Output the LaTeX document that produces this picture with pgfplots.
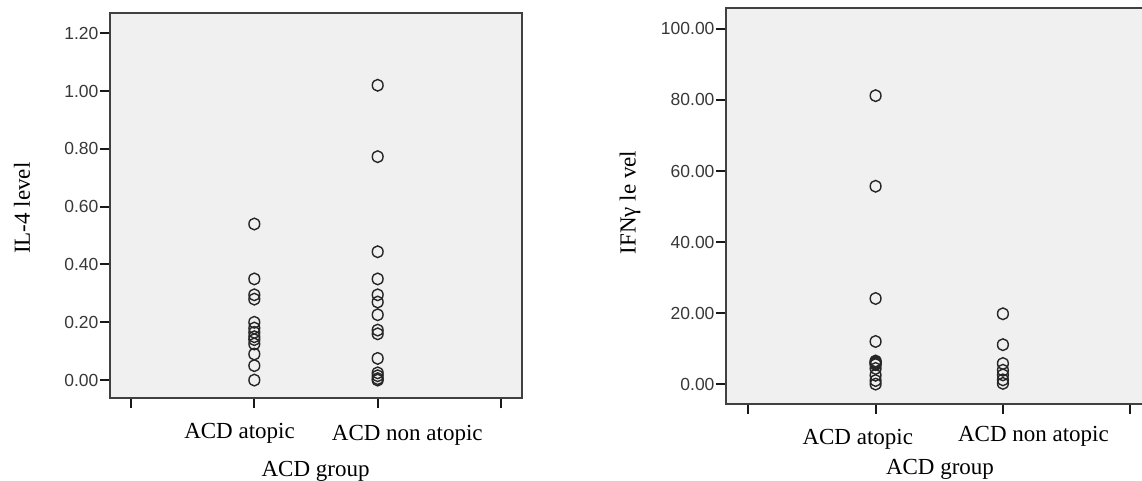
\documentclass[border=0pt]{standalone}
\usepackage{fontspec}
\setmainfont{Liberation Serif}
\newfontfamily\tickfont{Liberation Sans}
\usepackage{pgfplots}
\pgfplotsset{compat=1.18}
\pgfplotsset{
  spss/.style={
    scale only axis,
    axis background/.style={fill=black!6},
    axis line style={black!75, line width=2pt},
    clip=false,
    xtick={0,1,2,3}, xticklabels={},
    xtick pos=bottom, ytick pos=left,
    tick align=outside,
    tick style={black!90, line width=2pt},
    major tick length=10pt,
    yticklabel style={font=\tickfont\fontsize{17.5}{17.5}\selectfont, text=black!78, xshift=2pt},
    /pgf/number format/fixed,
    /pgf/number format/fixed zerofill,
    /pgf/number format/precision=2,
    /pgf/number format/assume math mode=true,
    label style={font=\fontsize{23}{23}\selectfont},
  },
  pts/.style={only marks, mark=o, mark size=5.4pt, mark options={black!85, line width=1.4pt, yscale=1.08}},
}
\begin{document}
\begin{tikzpicture}
\useasboundingbox (0pt,0pt) rectangle (1142pt,481pt);
% Left panel: IL-4
\begin{axis}[spss,
  at={(110pt,82.7pt)}, anchor=south west,
  width=412pt, height=385pt,
  xmin=-0.17, xmax=3.17, ymin=-0.063, ymax=1.269,
  ytick={0,0.2,0.4,0.6,0.8,1.0,1.2},
  ylabel={IL-4 level},
  ylabel style={at={(axis description cs:-0.2136,0.494)}, anchor=center},
  xlabel={ACD group},
  xlabel style={at={(axis description cs:0.499,-0.2036)}, anchor=base},
]
\addplot[pts] table[row sep=\\] {
x y\\ 1 0.54\\ 1 0.35\\ 1 0.295\\ 1 0.28\\ 1 0.20\\ 1 0.18\\ 1 0.165\\ 1 0.15\\ 1 0.14\\ 1 0.125\\ 1 0.09\\ 1 0.05\\ 1 0.0\\
};
\addplot[pts] table[row sep=\\] {
x y\\ 2 1.02\\ 2 0.773\\ 2 0.444\\ 2 0.35\\ 2 0.295\\ 2 0.27\\ 2 0.226\\ 2 0.173\\ 2 0.16\\ 2 0.075\\ 2 0.025\\ 2 0.015\\ 2 0.005\\ 2 0.0\\
};
\node[anchor=base, font=\fontsize{23}{23}\selectfont] at (axis cs:0.88,-0.2008) {ACD atopic};
\node[anchor=base, font=\fontsize{23}{23}\selectfont] at (axis cs:2.24,-0.2077) {ACD non atopic};
\end{axis}
% Right panel: IFN-gamma
\begin{axis}[spss,
  at={(726pt,77pt)}, anchor=south west,
  width=420pt, height=395.7pt,
  xmin=-0.175, xmax=3.124, ymin=-5.6, ymax=105.8,
  ytick={0,20,40,60,80,100},
  ylabel={IFNγ le vel},
  ylabel style={at={(axis description cs:-0.2286,0.509)}, anchor=center},
  xlabel={ACD group},
  xlabel style={at={(axis description cs:0.5095,-0.1794)}, anchor=base},
]
\addplot[pts] table[row sep=\\] {
x y\\ 1 81.2\\ 1 55.7\\ 1 24.1\\ 1 12.0\\ 1 6.5\\ 1 6.2\\ 1 6.0\\ 1 5.8\\ 1 5.5\\ 1 4.4\\ 1 2.5\\ 1 1.0\\ 1 0.0\\
};
\addplot[pts] table[row sep=\\] {
x y\\ 2 19.8\\ 2 11.1\\ 2 5.8\\ 2 3.9\\ 2 2.6\\ 2 1.2\\ 2 0.2\\
};
\node[anchor=base, font=\fontsize{23}{23}\selectfont] at (axis cs:0.86,-16.87) {ACD atopic};
\node[anchor=base, font=\fontsize{23}{23}\selectfont] at (axis cs:2.24,-16.22) {ACD non atopic};
\end{axis}
\end{tikzpicture}
\end{document}
